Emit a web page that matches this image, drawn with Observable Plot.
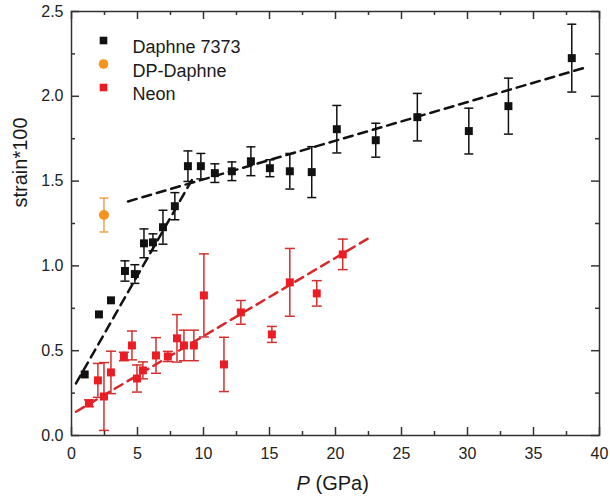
<!DOCTYPE html>
<html>
<head>
<meta charset="utf-8">
<script src="https://cdn.jsdelivr.net/npm/d3@7"></script>
<script src="https://cdn.jsdelivr.net/npm/@observablehq/plot@0.6"></script>
<style>
  html, body { margin: 0; padding: 0; background: #fff; }
  #chart svg { display: block; font-family: Arial, "Liberation Sans", sans-serif; }
</style>
</head>
<body>
<div id="chart"></div>
<script>
// ---- Data ----
const daphneP   = [1.0, 2.08, 2.99, 4.05, 4.8, 5.49, 6.17, 6.93, 7.83, 8.82, 9.8, 10.86, 12.15, 13.59, 15.03, 16.54, 18.2, 20.1, 23.05, 26.2, 30.1, 33.1, 37.9];
const daphneS   = [0.36, 0.714, 0.797, 0.97, 0.952, 1.133, 1.139, 1.228, 1.352, 1.588, 1.588, 1.547, 1.558, 1.617, 1.576, 1.558, 1.553, 1.806, 1.741, 1.877, 1.795, 1.942, 2.225];
const daphneErr = [0, 0, 0, 0.06, 0.055, 0.085, 0.05, 0.1, 0.08, 0.09, 0.075, 0.055, 0.055, 0.085, 0.05, 0.105, 0.15, 0.14, 0.1, 0.14, 0.135, 0.165, 0.2];

const dpP   = [2.46];
const dpS   = [1.30];
const dpErr = [0.10];

const neonP   = [1.32, 2.0, 2.46, 2.99, 3.97, 4.58, 4.96, 5.41, 6.4, 7.3, 7.99, 8.52, 9.27, 10.03, 11.55, 12.83, 15.18, 16.54, 18.58, 20.55];
const neonS   = [0.19, 0.325, 0.23, 0.372, 0.466, 0.531, 0.336, 0.384, 0.472, 0.466, 0.573, 0.531, 0.531, 0.826, 0.419, 0.726, 0.596, 0.903, 0.838, 1.068];
const neonErr = [0.02, 0.1, 0.2, 0.125, 0.025, 0.085, 0.08, 0.05, 0.105, 0.03, 0.14, 0.09, 0.09, 0.245, 0.16, 0.07, 0.047, 0.2, 0.075, 0.09];

// Linear fit segments (endpoints)
const fitDaphneLowP  = [0.34, 9.2];
const fitDaphneLowS  = [0.307, 1.517];
const fitDaphneHighP = [4.28, 38.95];
const fitDaphneHighS = [1.38, 2.17];
const fitNeonP       = [0.34, 22.5];
const fitNeonS       = [0.14, 1.163];

// Axes ticks
const xMajor = [0, 5, 10, 15, 20, 25, 30, 35, 40];
const xMinor = [2.5, 7.5, 12.5, 17.5, 22.5, 27.5, 32.5, 37.5];
const yMajor = [0, 0.5, 1.0, 1.5, 2.0, 2.5];
const yMinor = [0.25, 0.75, 1.25, 1.75, 2.25];

const legendLabels = ["Daphne 7373", "DP-Daphne", "Neon"];

// ---- Build tables ----
const toRows = (P, S, E) => P.map((p, i) => ({p, s: S[i], e: E[i]}));
const daphne = toRows(daphneP, daphneS, daphneErr);
const dp = toRows(dpP, dpS, dpErr);
const neon = toRows(neonP, neonS, neonErr);
const fitRows = (P, S) => P.map((p, i) => ({p, s: S[i]}));

const W = 610, H = 504;
const mL = 71, mR = 11, mT = 11, mB = 69;
const plotW = W - mL - mR, plotH = H - mT - mB;

const BLACK = "#111", RED = "#ec1c24", REDBAR = "#d4302f", ORANGE = "#f7941d", ORANGEBAR = "#f2a24a";
const AXIS = "#333";

const capSymbol = {
  draw(ctx, size) {
    const h = Math.sqrt(size / Math.PI);
    ctx.moveTo(-h, 0);
    ctx.lineTo(h, 0);
  }
};

function errorMarks(rows, color, capR) {
  const withErr = rows.filter(d => d.e > 0);
  return [
    Plot.ruleX(withErr, {x: "p", y1: d => d.s - d.e, y2: d => d.s + d.e, stroke: color, strokeWidth: 1.5}),
    Plot.dot(withErr, {x: "p", y: d => d.s - d.e, symbol: capSymbol, r: capR, stroke: color, strokeWidth: 1.5, fill: "none"}),
    Plot.dot(withErr, {x: "p", y: d => d.s + d.e, symbol: capSymbol, r: capR, stroke: color, strokeWidth: 1.5, fill: "none"})
  ];
}

const legendSymbols = ["square", "circle", "square"];
const legendColors = [BLACK, ORANGE, RED];
const legendR = [4.3, 4.8, 4.3];
const legendMarks = legendLabels.flatMap((label, i) => [
  Plot.dot([label], {frameAnchor: "top-left", dx: 32, dy: 29 + i * 23.5, symbol: legendSymbols[i], r: legendR[i], fill: legendColors[i], stroke: "none"}),
  Plot.text([label], {frameAnchor: "top-left", dx: 61, dy: 29 + i * 23.5, text: d => d, textAnchor: "start", fontSize: 18, fill: "#1a1a1a"})
]);

const chart = Plot.plot({
  width: W,
  height: H,
  marginLeft: mL,
  marginRight: mR,
  marginTop: mT,
  marginBottom: mB,
  style: {fontFamily: 'Arial, "Liberation Sans", sans-serif', background: "#fff"},
  x: {domain: [0, 40], label: null},
  y: {domain: [0, 2.5], label: null},
  marks: [
    // fit lines
    Plot.line(fitRows(fitDaphneLowP, fitDaphneLowS), {x: "p", y: "s", stroke: BLACK, strokeWidth: 2.5, strokeDasharray: "9,6"}),
    Plot.line(fitRows(fitDaphneHighP, fitDaphneHighS), {x: "p", y: "s", stroke: BLACK, strokeWidth: 2.5, strokeDasharray: "9,6"}),
    Plot.line(fitRows(fitNeonP, fitNeonS), {x: "p", y: "s", stroke: "#d8262a", strokeWidth: 2.5, strokeDasharray: "9,6"}),
    // error bars
    ...errorMarks(daphne, BLACK, 4.5),
    ...errorMarks(dp, ORANGEBAR, 4.5),
    ...errorMarks(neon, REDBAR, 5),
    // points
    Plot.dot(daphne, {x: "p", y: "s", symbol: "square", r: 4.5, fill: BLACK, stroke: "none"}),
    Plot.dot(dp, {x: "p", y: "s", symbol: "circle", r: 5, fill: ORANGE, stroke: "none"}),
    Plot.dot(neon, {x: "p", y: "s", symbol: "square", r: 4.5, fill: RED, stroke: "none"}),
    // frame and inward ticks
    Plot.frame({stroke: AXIS, strokeWidth: 1.5}),
    Plot.tickX(xMajor, {x: d => d, insetTop: plotH - 8, stroke: AXIS, strokeWidth: 1.5}),
    Plot.tickX(xMinor, {x: d => d, insetTop: plotH - 4, stroke: AXIS, strokeWidth: 1.5}),
    Plot.tickX(xMajor, {x: d => d, insetBottom: plotH - 8, stroke: AXIS, strokeWidth: 1.5}),
    Plot.tickX(xMinor, {x: d => d, insetBottom: plotH - 4, stroke: AXIS, strokeWidth: 1.5}),
    Plot.tickY(yMajor, {y: d => d, insetRight: plotW - 8, stroke: AXIS, strokeWidth: 1.5}),
    Plot.tickY(yMinor, {y: d => d, insetRight: plotW - 4, stroke: AXIS, strokeWidth: 1.5}),
    Plot.tickY(yMajor, {y: d => d, insetLeft: plotW - 8, stroke: AXIS, strokeWidth: 1.5}),
    Plot.tickY(yMinor, {y: d => d, insetLeft: plotW - 4, stroke: AXIS, strokeWidth: 1.5}),
    // tick labels
    Plot.axisX({ticks: xMajor, tickSize: 0, tickPadding: 12, fontSize: 16, tickFormat: d => String(d), label: null, fill: "#222"}),
    Plot.axisY({ticks: yMajor, tickSize: 0, tickPadding: 8, fontSize: 16, tickFormat: d3.format(".1f"), label: null, fill: "#222"}),
    // axis titles
    Plot.text(["P"], {frameAnchor: "bottom", dx: -39, dy: 54, text: d => d, fontSize: 20, fontStyle: "italic", textAnchor: "start", fill: "#1a1a1a"}),
    Plot.text(["(GPa)"], {frameAnchor: "bottom", dx: -20, dy: 54, text: d => d, fontSize: 20, textAnchor: "start", fill: "#1a1a1a"}),
    Plot.text(["strain*100"], {frameAnchor: "left", dx: -51, dy: -16, text: d => d, fontSize: 20, rotate: -90, fill: "#1a1a1a"}),
    // legend
    ...legendMarks
  ]
});

document.getElementById("chart").appendChild(chart);
</script>
</body>
</html>
